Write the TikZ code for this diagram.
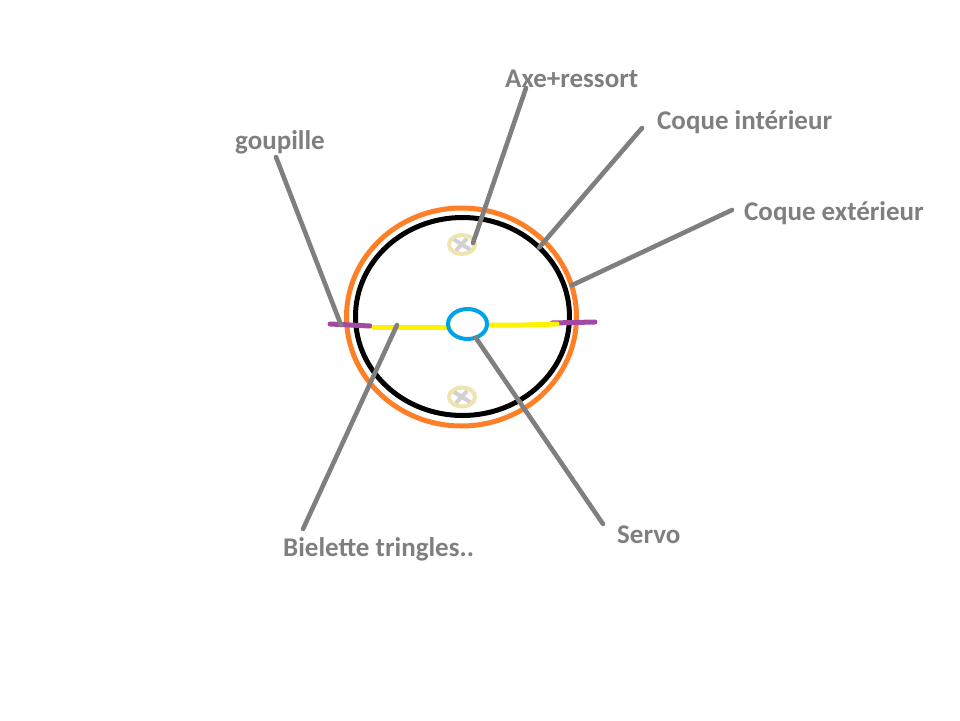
\documentclass[tikz,border=0pt]{standalone}
\usepackage{fontspec}
\setmainfont{Carlito}
\usetikzlibrary{shapes.geometric}
\definecolor{shellout}{HTML}{FF7F27}
\definecolor{hubblue}{HTML}{00A2E8}
\definecolor{rodyellow}{HTML}{FFF200}
\definecolor{pinpurple}{HTML}{A349A4}
\definecolor{screwbeige}{HTML}{EFE4B0}
\definecolor{leadgray}{HTML}{7F7F7F}
\tikzset{ring/.style={draw,ellipse,inner sep=0pt,outer sep=0pt,line width=5pt}}
\tikzset{screw/.style={ring,draw=screwbeige,line width=4pt,
                       minimum width=26pt,minimum height=19pt}}
\tikzset{label/.style={anchor=west,inner sep=0pt,text=leadgray,
                       font=\fontsize{27pt}{27pt}\selectfont\bfseries,
                       text height=14pt,text depth=5pt}}
\tikzset{leader/.style={draw=leadgray,line width=4.6pt,line cap=round}}
\tikzset{rod/.style={line width=5pt,line cap=round}}
\newcommand{\crosssymbol}{\draw[line width=4pt,black!18] (-8,-5) -- (8,5)
                          (-6,6) -- (5,-6);}

\begin{document}
\begin{tikzpicture}[x=1pt,y=-1pt]
    \useasboundingbox (0,0) rectangle (960,720);

    % shells
    \node[ring,draw=shellout,minimum width=230pt,minimum height=218pt] (outer) at (461.5,317) {};
    \node[ring,draw=black,minimum width=214pt,minimum height=198pt] (inner) at (462.5,316.5) {};

    % axles
    \node[screw] (screwup) at (462,244.5) {};
       \begin{scope}[xshift=462pt,yshift=-244.5pt]
         \crosssymbol
       \end{scope}
    \node[screw] (screwdown) at (462,397) {};
       \begin{scope}[xshift=462pt,yshift=-397pt]
         \crosssymbol
       \end{scope}

    % pins
    \draw[rod,pinpurple] (330,324) -- (370,326);
    \draw[rod,pinpurple] (552,323) -- (595,322);
    % rods
    \draw[rod,rodyellow] (374,327) -- (449,327);
    \draw[rod,rodyellow] (491,325) -- (524,325) -- (557,324);

    % servo
    \node[ring,draw=hubblue,line width=4pt,minimum width=39pt,minimum height=30pt] (hub) at (467.5,324) {};

    % free ends of the leaders
    \coordinate (axeend) at (473,243);
    \coordinate (pinend) at (341,325);
    \coordinate (rodend) at (397,325);

    % Labels
    \node[label] (axe) at (505,82.5) {Axe+ressort};
    \node[label] (coqint) at (657,124.5) {Coque intérieur};
    \node[label] (coqext) at (744,215.5) {Coque extérieur};
    \node[label] (goupille) at (235,145) {goupille};
    \node[label] (bielette) at (283,551.5) {Bielette tringles..};
    \node[label] (servo) at (617,538.5) {Servo};

    \draw[leader] ([shift={(21pt,-5.5pt)}]axe.west) -- (axeend);
    \draw[leader] ([shift={(-15pt,-3.5pt)}]coqint.west) -- (inner.42);
    \draw[leader] ([shift={(-12pt,5.5pt)}]coqext.west) -- (outer.16);
    \draw[leader] ([shift={(41pt,-12pt)}]goupille.west) -- (pinend);
    \draw[leader] ([shift={(20pt,22.5pt)}]bielette.west) -- (rodend);
    \draw[leader] ([shift={(-14pt,14.5pt)}]servo.west) -- (hub.-59);
\end{tikzpicture}
\end{document}
